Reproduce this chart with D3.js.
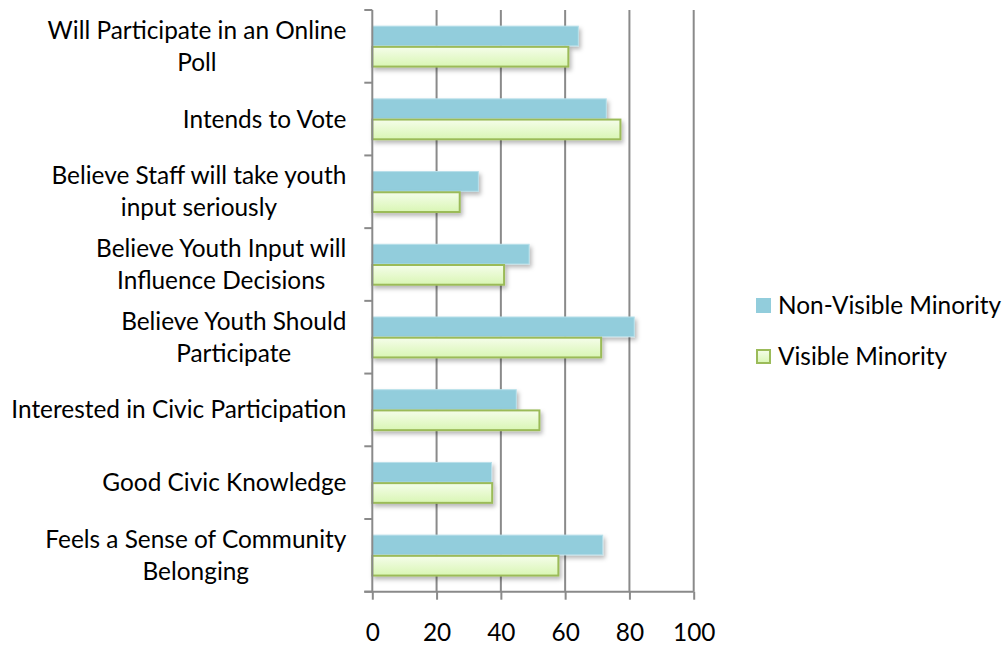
<!DOCTYPE html>
<html>
<head>
<meta charset="utf-8">
<script src="https://cdn.jsdelivr.net/npm/d3@7/dist/d3.min.js"></script>
<style>
  html, body { margin: 0; padding: 0; background: #fff; }
  svg { display: block; font-family: Lato, "Open Sans", sans-serif; }
</style>
</head>
<body>
<svg id="chart" width="1003" height="647"></svg>
<script>
// Survey items, top to bottom ("\n" marks where a label wraps)
const categories = [
  "Will Participate in an Online\nPoll",
  "Intends to Vote",
  "Believe Staff will take youth\ninput seriously",
  "Believe Youth Input will\nInfluence Decisions",
  "Believe Youth Should\nParticipate",
  "Interested in Civic Participation",
  "Good Civic Knowledge",
  "Feels a Sense of Community\nBelonging"
];
const seriesNames = ["Non-Visible Minority", "Visible Minority"];
const nonVisibleMinority = [64.1, 72.8, 33.0, 48.8, 81.5, 44.8, 37.1, 71.7];
const visibleMinority    = [61.0, 77.2, 27.2, 41.0, 71.2, 52.0, 37.3, 57.9];
const xTicks = [0, 20, 40, 60, 80, 100];

const fontSize = 24.4;
const svg = d3.select("#chart");
const margin = { left: 372.3, top: 10 };
const w = 321.4, h = 581.7;
const g = svg.append("g").attr("transform", `translate(${margin.left},${margin.top})`);

const defs = svg.append("defs");
const grad = defs.append("linearGradient").attr("id", "vmFill")
  .attr("x1", 0).attr("y1", 0).attr("x2", 0).attr("y2", 1);
grad.append("stop").attr("offset", "0%").attr("stop-color", "#f5fdea");
grad.append("stop").attr("offset", "100%").attr("stop-color", "#d9f6b4");
const shadow = defs.append("filter").attr("id", "barShadow")
  .attr("x", "-10%").attr("y", "-30%").attr("width", "130%").attr("height", "180%");
shadow.append("feDropShadow").attr("dx", 2).attr("dy", 3)
  .attr("stdDeviation", 2).attr("flood-color", "#000").attr("flood-opacity", 0.28);

const x = d3.scaleLinear().domain([0, 100]).range([0, w]);
const y0 = d3.scaleBand().domain(categories).range([0, h])
  .paddingInner(0.43).paddingOuter(0.215);
const y1 = d3.scaleBand().domain(seriesNames).range([0, y0.bandwidth()]);

// vertical gridlines
g.append("g").selectAll("line").data(xTicks.slice(1)).join("line")
  .attr("x1", d => x(d)).attr("x2", d => x(d))
  .attr("y1", 0).attr("y2", h)
  .attr("stroke", "#8a8a8a").attr("stroke-width", 2);

// bars
const rows = categories.map((c, i) => ({
  cat: c,
  vals: [
    { s: seriesNames[0], v: nonVisibleMinority[i] },
    { s: seriesNames[1], v: visibleMinority[i] }
  ]
}));
const groups = g.append("g").selectAll("g").data(rows).join("g")
  .attr("transform", d => `translate(0,${y0(d.cat)})`);
groups.selectAll("rect").data(d => d.vals).join("rect")
  .attr("x", x(0))
  .attr("y", d => y1(d.s) + 0.5)
  .attr("width", d => x(d.v))
  .attr("height", y1.bandwidth() - 1)
  .attr("fill", d => d.s === seriesNames[0] ? "#92cddc" : "url(#vmFill)")
  .attr("stroke", d => d.s === seriesNames[0] ? "#b9e0ea" : "#9bbb59")
  .attr("stroke-width", d => d.s === seriesNames[0] ? 1 : 2)
  .attr("filter", "url(#barShadow)");

// category axis (left)
const yAxis = g.append("g")
  .call(d3.axisLeft(y0).tickSize(0).tickFormat(""));
yAxis.select(".domain").remove();
g.append("line").attr("x1", 0).attr("x2", 0).attr("y1", 0).attr("y2", h)
  .attr("stroke", "#8a8a8a").attr("stroke-width", 2);
const boundaries = d3.range(categories.length + 1).map(i => i * y0.step());
g.append("g").selectAll("line").data(boundaries).join("line")
  .attr("x1", -8).attr("x2", 0).attr("y1", d => d).attr("y2", d => d)
  .attr("stroke", "#8a8a8a").attr("stroke-width", 2);

// value axis (bottom)
const xAxis = g.append("g").attr("transform", `translate(0,${h})`)
  .call(d3.axisBottom(x).tickValues(xTicks).tickSize(8).tickPadding(24));
xAxis.select(".domain").attr("stroke", "#8a8a8a").attr("stroke-width", 2)
  .attr("d", `M${x(0) - 8},0H${x(100)}`);
xAxis.selectAll(".tick line").attr("stroke", "#8a8a8a").attr("stroke-width", 2);
xAxis.selectAll(".tick text").attr("fill", "#000").attr("font-size", fontSize)
  .attr("font-family", "Lato, 'Open Sans', sans-serif");

// category labels
const lineH = 32;
function widthOf(s) {
  const tmp = svg.append("text").attr("font-size", fontSize).text(s);
  const wd = tmp.node().getComputedTextLength();
  tmp.remove();
  return wd;
}
const labels = g.append("g").selectAll("text").data(categories).join("text")
  .attr("text-anchor", "end")
  .attr("font-size", fontSize)
  .attr("fill", "#000")
  .attr("transform", d => `translate(-26,${y0(d) + y0.bandwidth() / 2})`);
labels.each(function(d) {
  const lines = d.split("\n");
  const maxW = d3.max(lines, widthOf);
  const t = d3.select(this);
  lines.forEach((ln, i) => {
    t.append("tspan")
      .attr("x", -(maxW - widthOf(ln)) / 2)
      .attr("y", (i - (lines.length - 1) / 2) * lineH)
      .attr("dy", "0.35em")
      .text(ln);
  });
});

// legend
const legend = svg.append("g").attr("transform", "translate(756,298)");
const li = legend.selectAll("g").data(seriesNames).join("g")
  .attr("transform", (d, i) => `translate(0,${i * 51})`);
li.append("rect")
  .attr("x", d => d === seriesNames[0] ? 0 : 1)
  .attr("y", d => d === seriesNames[0] ? 0 : 1)
  .attr("width", d => d === seriesNames[0] ? 15 : 13)
  .attr("height", d => d === seriesNames[0] ? 15 : 13)
  .attr("fill", d => d === seriesNames[0] ? "#92cddc" : "url(#vmFill)")
  .attr("stroke", d => d === seriesNames[0] ? "none" : "#9bbb59")
  .attr("stroke-width", 2);
li.append("text").attr("x", 22).attr("y", 7.5).attr("dy", "0.35em")
  .attr("font-size", fontSize).attr("fill", "#000").text(d => d);
</script>
</body>
</html>
